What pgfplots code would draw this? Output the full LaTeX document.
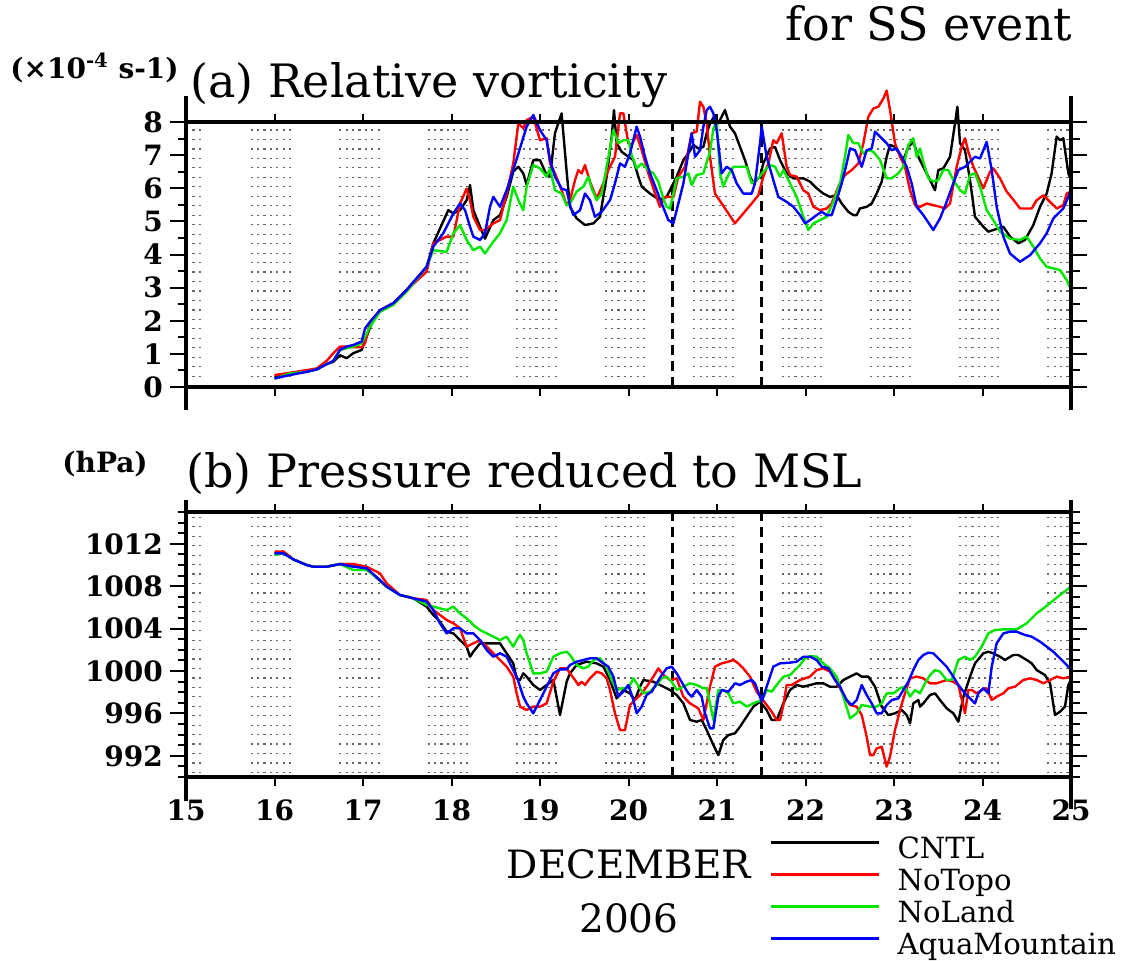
\documentclass[border=0pt]{standalone}
\usepackage{fontspec}
\setmainfont{DejaVu Serif}
\usepackage{pgfplots}
\pgfplotsset{compat=1.18}
\definecolor{cgreen}{RGB}{0,230,0}
\definecolor{cred}{RGB}{255,0,0}
\definecolor{cblue}{RGB}{0,0,255}
\newcommand\titlefont{\fontsize{23pt}{27pt}\selectfont}
\newcommand\tickfont{\fontsize{14pt}{16pt}\selectfont\bfseries}
\newcommand\legfont{\fontsize{14.6pt}{17pt}\selectfont}
\newcommand\datefont{\fontsize{19.5pt}{22pt}\selectfont}
\newcommand\nightrow[1]{(axis cs:15,#1) -- (axis cs:15.21,#1) (axis cs:15.73,#1) -- (axis cs:16.21,#1) (axis cs:16.73,#1) -- (axis cs:17.21,#1) (axis cs:17.73,#1) -- (axis cs:18.21,#1) (axis cs:18.73,#1) -- (axis cs:19.21,#1) (axis cs:19.73,#1) -- (axis cs:20.21,#1) (axis cs:20.73,#1) -- (axis cs:21.21,#1) (axis cs:21.73,#1) -- (axis cs:22.21,#1) (axis cs:22.73,#1) -- (axis cs:23.21,#1) (axis cs:23.73,#1) -- (axis cs:24.21,#1) (axis cs:24.73,#1) -- (axis cs:25,#1)}
\tikzset{
  nightdot/.style={draw=black!60, line width=0.6pt, dash pattern=on 1.1pt off 2.1pt},
  evline/.style={draw=black, line width=1.4pt, dash pattern=on 5pt off 3pt},
  frame/.style={line width=1.6pt},
}
\pgfplotsset{
  panel/.style={
    width=442.5pt, height=132.5pt, scale only axis,
    xmin=15, xmax=25, clip=false,
    axis line style={line width=1.6pt},
    tick align=outside,
    major tick length=8pt, minor tick length=4.25pt,
    tick style={black, line width=1pt},
    xtick={15,...,25},
    major x tick style={draw=none},
    minor xtick={16,...,24},
    yticklabel pos=left,
    ticklabel style={font=\tickfont},
    /pgf/number format/assume math mode=true,
    /pgf/number format/1000 sep={},
  },
  curve/.style={line width=1.2pt, line join=round, no markers},
}
\begin{document}
\begin{tikzpicture}
\path[use as bounding box] (0pt,0pt) rectangle (564.5pt,-480pt);

% ---------------- panel (a)
\begin{axis}[panel, at={(93pt,-193.5pt)}, anchor=south west,
  ymin=0, ymax=8, ytick={0,...,8}, minor ytick={0,0.5,...,8},
  xticklabels={}]
\pgfplotsinvokeforeach{0,...,27}{\draw[nightdot] \nightrow{{0.04+#1*0.2859}};}
\draw[evline] (axis cs:20.5,0) -- (axis cs:20.5,8);
\draw[evline] (axis cs:21.5,0) -- (axis cs:21.5,8);
\addplot[curve, black] coordinates {(16.0,0.31)(16.175,0.41)(16.363,0.46)(16.476,0.53)(16.589,0.69)(16.664,0.76)(16.740,0.96)(16.815,0.87)(16.890,1.02)(16.985,1.12)(17.023,1.40)(17.098,1.92)(17.192,2.32)(17.343,2.53)(17.493,2.93)(17.719,3.63)(17.795,4.34)(17.964,5.34)(18.021,5.24)(18.096,5.34)(18.171,5.64)(18.209,6.10)(18.247,5.34)(18.322,4.84)(18.378,4.48)(18.473,5.04)(18.548,5.19)(18.623,5.74)(18.698,6.50)(18.755,6.65)(18.811,6.45)(18.849,6.10)(18.924,6.85)(19.0,6.85)(19.075,6.40)(19.113,6.35)(19.169,7.66)(19.244,8.26)(19.301,6.50)(19.339,5.44)(19.414,5.09)(19.508,4.89)(19.603,4.94)(19.678,5.14)(19.753,6.35)(19.810,7.56)(19.836,8.36)(19.866,7.36)(19.923,7.10)(19.998,6.95)(20.055,6.85)(20.111,6.35)(20.149,6.05)(20.243,5.84)(20.356,5.64)(20.431,5.74)(20.488,6.05)(20.544,6.35)(20.620,6.85)(20.676,7.05)(20.733,7.31)(20.789,7.20)(20.846,7.25)(20.883,7.66)(20.921,7.96)(20.977,8.21)(21.015,7.96)(21.090,8.36)(21.147,7.86)(21.203,7.66)(21.260,7.25)(21.316,6.85)(21.373,6.35)(21.411,6.15)(21.486,6.35)(21.523,6.75)(21.599,7.20)(21.655,7.25)(21.712,6.85)(21.787,6.45)(21.863,6.30)(21.976,6.30)(22.051,6.20)(22.126,6.00)(22.201,5.84)(22.277,5.74)(22.352,5.79)(22.409,5.54)(22.484,5.29)(22.541,5.19)(22.578,5.19)(22.616,5.39)(22.691,5.44)(22.748,5.54)(22.804,5.84)(22.861,6.20)(22.917,6.95)(22.955,7.31)(23.011,7.25)(23.068,7.00)(23.105,6.85)(23.162,7.25)(23.218,7.40)(23.275,6.95)(23.331,6.65)(23.407,6.25)(23.463,5.94)(23.501,6.55)(23.557,6.60)(23.633,6.95)(23.689,7.96)(23.716,8.46)(23.746,7.36)(23.802,7.15)(23.859,6.25)(23.915,5.14)(24.009,4.84)(24.066,4.69)(24.122,4.74)(24.179,4.79)(24.235,4.84)(24.311,4.54)(24.405,4.34)(24.480,4.44)(24.574,4.89)(24.650,5.44)(24.725,5.84)(24.781,6.45)(24.838,7.56)(24.876,7.45)(24.913,7.51)(24.970,6.45)(25.0,6.25)};
\addplot[curve, cred] coordinates {(16.0,0.36)(16.175,0.43)(16.363,0.51)(16.476,0.56)(16.589,0.79)(16.664,1.02)(16.740,1.22)(16.815,1.22)(16.890,1.20)(16.985,1.20)(17.023,1.32)(17.079,1.92)(17.192,2.32)(17.343,2.53)(17.493,2.93)(17.719,3.48)(17.795,4.34)(17.945,4.54)(18.021,4.54)(18.096,5.54)(18.171,5.99)(18.209,5.64)(18.247,5.14)(18.322,4.74)(18.378,4.74)(18.473,4.94)(18.548,5.04)(18.623,5.84)(18.698,6.75)(18.755,7.96)(18.811,7.81)(18.849,8.06)(18.924,8.16)(19.0,7.45)(19.075,7.51)(19.113,6.75)(19.169,6.45)(19.244,5.94)(19.301,5.49)(19.339,5.64)(19.396,6.25)(19.433,6.55)(19.471,6.45)(19.508,6.70)(19.565,6.20)(19.640,5.69)(19.716,6.15)(19.772,6.55)(19.847,6.95)(19.904,8.26)(19.942,8.26)(19.998,7.36)(20.036,7.31)(20.092,7.61)(20.149,7.15)(20.224,6.45)(20.300,5.84)(20.356,5.44)(20.413,5.74)(20.469,5.74)(20.507,5.74)(20.563,6.35)(20.638,6.65)(20.714,7.66)(20.770,7.71)(20.808,8.61)(20.846,8.46)(20.883,7.96)(20.921,6.95)(20.977,5.84)(21.053,5.54)(21.128,5.24)(21.203,4.94)(21.297,5.24)(21.392,5.54)(21.467,5.79)(21.523,6.35)(21.580,6.75)(21.636,7.45)(21.674,7.36)(21.731,7.66)(21.787,6.65)(21.825,6.40)(21.900,6.35)(21.976,5.94)(22.032,5.84)(22.089,5.44)(22.164,5.34)(22.239,5.39)(22.296,5.54)(22.371,6.05)(22.446,6.40)(22.522,6.55)(22.597,6.75)(22.654,7.36)(22.710,8.16)(22.767,8.41)(22.823,8.46)(22.880,8.71)(22.917,8.95)(22.955,8.36)(23.011,7.36)(23.068,6.95)(23.124,6.65)(23.181,5.94)(23.237,5.49)(23.294,5.44)(23.369,5.54)(23.444,5.49)(23.520,5.44)(23.576,5.39)(23.633,5.54)(23.708,6.65)(23.765,7.25)(23.802,7.51)(23.840,7.10)(23.897,6.65)(24.009,6.00)(24.085,6.50)(24.122,6.60)(24.198,6.30)(24.273,5.90)(24.367,5.59)(24.424,5.39)(24.499,5.39)(24.556,5.39)(24.612,5.64)(24.688,5.79)(24.763,5.59)(24.838,5.39)(24.913,5.49)(24.951,5.84)(25.0,5.90)};
\addplot[curve, cgreen] coordinates {(16.0,0.25)(16.175,0.41)(16.363,0.46)(16.476,0.53)(16.589,0.69)(16.664,0.79)(16.740,1.12)(16.815,1.17)(16.890,1.22)(16.985,1.32)(17.023,1.52)(17.079,1.82)(17.192,2.27)(17.343,2.48)(17.493,2.88)(17.719,3.63)(17.795,4.13)(17.945,4.08)(18.021,4.64)(18.096,4.89)(18.171,4.44)(18.247,4.13)(18.322,4.24)(18.378,4.03)(18.473,4.39)(18.548,4.64)(18.623,5.04)(18.698,6.05)(18.755,5.64)(18.811,5.34)(18.849,6.05)(18.924,6.70)(19.0,6.60)(19.075,6.35)(19.113,6.60)(19.169,5.94)(19.244,5.84)(19.301,5.49)(19.339,5.54)(19.414,5.90)(19.490,6.05)(19.546,6.35)(19.584,6.00)(19.640,5.64)(19.697,5.84)(19.753,6.65)(19.829,7.76)(19.885,7.36)(19.942,7.45)(19.998,7.45)(20.036,7.00)(20.092,6.60)(20.149,6.75)(20.224,6.55)(20.281,6.45)(20.337,6.20)(20.394,5.69)(20.431,5.44)(20.469,5.39)(20.507,5.84)(20.544,6.30)(20.620,6.35)(20.676,6.45)(20.714,6.10)(20.770,6.40)(20.846,6.45)(20.921,7.10)(20.959,7.81)(20.996,8.01)(21.034,6.45)(21.071,6.05)(21.128,6.40)(21.185,6.65)(21.260,6.65)(21.335,6.65)(21.392,6.15)(21.467,6.30)(21.523,6.50)(21.599,6.70)(21.655,6.65)(21.712,6.35)(21.750,6.55)(21.825,6.15)(21.900,5.74)(21.976,5.14)(22.032,4.74)(22.089,4.94)(22.164,5.04)(22.239,5.14)(22.315,5.59)(22.390,6.15)(22.446,6.95)(22.484,7.61)(22.541,7.36)(22.597,7.36)(22.654,7.05)(22.710,7.15)(22.767,7.10)(22.842,6.85)(22.917,6.30)(22.974,6.30)(23.049,6.45)(23.105,6.65)(23.162,7.31)(23.218,7.51)(23.256,6.95)(23.294,7.20)(23.331,6.80)(23.388,6.30)(23.444,6.20)(23.501,6.25)(23.557,6.55)(23.614,6.55)(23.670,6.25)(23.746,5.94)(23.802,5.84)(23.859,6.40)(23.915,6.45)(23.972,6.05)(24.047,5.34)(24.122,5.04)(24.198,4.69)(24.311,4.48)(24.424,4.44)(24.499,4.54)(24.574,4.24)(24.650,3.88)(24.725,3.63)(24.800,3.58)(24.876,3.53)(24.951,3.23)(25.0,2.93)};
\addplot[curve, cblue] coordinates {(16.0,0.26)(16.175,0.36)(16.363,0.46)(16.476,0.53)(16.589,0.69)(16.664,0.79)(16.740,1.12)(16.815,1.22)(16.890,1.27)(16.985,1.37)(17.023,1.77)(17.079,1.97)(17.192,2.32)(17.343,2.53)(17.493,2.93)(17.719,3.63)(17.795,4.24)(17.907,4.64)(17.964,4.94)(18.021,5.24)(18.096,5.54)(18.153,5.34)(18.209,4.84)(18.247,4.54)(18.322,4.44)(18.378,4.64)(18.435,5.44)(18.473,5.74)(18.548,5.44)(18.623,5.94)(18.698,6.55)(18.849,7.86)(18.924,8.21)(19.0,7.76)(19.075,7.45)(19.113,6.85)(19.169,6.35)(19.244,5.99)(19.301,5.94)(19.339,5.49)(19.377,5.19)(19.452,5.34)(19.508,5.84)(19.565,5.64)(19.621,5.14)(19.697,5.29)(19.791,5.64)(19.847,6.15)(19.904,6.75)(19.960,6.65)(20.017,7.05)(20.092,7.86)(20.130,7.56)(20.186,6.95)(20.243,6.45)(20.318,5.94)(20.375,5.54)(20.450,5.04)(20.507,4.94)(20.563,5.54)(20.620,6.15)(20.676,7.05)(20.714,7.66)(20.752,6.95)(20.808,7.15)(20.846,7.86)(20.883,8.36)(20.921,8.46)(20.959,8.26)(20.996,7.76)(21.053,6.45)(21.109,6.65)(21.166,6.55)(21.222,6.15)(21.297,5.84)(21.392,5.84)(21.429,6.15)(21.486,7.36)(21.505,7.86)(21.561,6.95)(21.636,6.25)(21.693,5.74)(21.787,5.59)(21.863,5.44)(21.938,5.19)(21.995,4.94)(22.051,5.04)(22.126,5.19)(22.183,5.29)(22.239,5.19)(22.296,5.19)(22.352,5.64)(22.409,6.15)(22.465,6.75)(22.503,7.20)(22.559,7.15)(22.635,6.65)(22.691,7.15)(22.748,7.20)(22.786,7.71)(22.842,7.56)(22.917,7.36)(22.974,7.15)(23.030,7.20)(23.087,6.95)(23.143,6.65)(23.199,6.15)(23.256,5.44)(23.331,5.19)(23.407,4.89)(23.444,4.74)(23.520,5.09)(23.595,5.59)(23.670,6.15)(23.727,6.55)(23.802,6.65)(23.859,6.80)(23.915,6.95)(23.972,6.90)(24.047,7.40)(24.104,6.55)(24.160,5.44)(24.235,4.54)(24.311,4.03)(24.424,3.78)(24.537,3.98)(24.650,4.34)(24.725,4.64)(24.800,5.09)(24.913,5.39)(24.970,5.74)(25.0,5.99)};
\draw[frame] (rel axis cs:0,0) -- (rel axis cs:1,0);
\draw[frame] (rel axis cs:0,1) -- (rel axis cs:1,1);
\draw[frame] (rel axis cs:0,-0.087) -- (rel axis cs:0,1.10);
\draw[frame] (rel axis cs:1,-0.087) -- (rel axis cs:1,1.10);
\end{axis}

% ---------------- panel (b)
\begin{axis}[panel, at={(93pt,-388.5pt)}, anchor=south west,
  ymin=990, ymax=1015, ytick={992,996,...,1012}, minor ytick={990,...,1015},
  legend cell align=left,
  legend style={at={(rel axis cs:0.66,-0.226)}, anchor=north west, draw=none, fill=none,
    inner sep=0pt, outer sep=0pt, row sep=0pt, column sep=0pt,
    nodes={inner sep=0pt, text height=10.7pt, text depth=5.3pt, font=\legfont}},
  legend image code/.code={\draw[#1, line width=1.2pt] (0pt,5.3pt) -- (54pt,5.3pt); \path (0pt,0pt) (62.5pt,0pt);}]
\pgfplotsinvokeforeach{0,...,27}{\draw[nightdot] \nightrow{{990.44+#1*0.891}};}
\draw[evline] (axis cs:20.5,990) -- (axis cs:20.5,1015);
\draw[evline] (axis cs:21.5,990) -- (axis cs:21.5,1015);
\addplot[curve, black] coordinates {(16.0,1011.10)(16.10,1011.26)(16.213,1010.53)(16.363,1010.0)(16.439,1009.84)(16.589,1009.84)(16.740,1010.09)(16.890,1010.09)(17.041,1009.69)(17.192,1008.50)(17.267,1007.96)(17.418,1007.17)(17.569,1006.86)(17.719,1006.07)(17.795,1005.28)(17.870,1004.65)(17.945,1003.71)(18.021,1003.55)(18.096,1002.92)(18.171,1002.30)(18.209,1001.35)(18.247,1001.82)(18.322,1002.61)(18.398,1002.61)(18.473,1002.61)(18.548,1002.61)(18.623,1001.67)(18.698,1000.72)(18.736,999.31)(18.774,999.15)(18.811,999.78)(18.849,999.47)(18.924,998.68)(19.0,998.21)(19.075,998.68)(19.151,999.15)(19.226,995.85)(19.301,998.99)(19.339,999.78)(19.414,1000.57)(19.527,1000.88)(19.640,1000.72)(19.716,1000.41)(19.791,999.15)(19.866,997.42)(19.942,998.21)(20.017,997.89)(20.073,997.26)(20.130,998.52)(20.168,999.15)(20.281,998.99)(20.394,998.52)(20.469,998.21)(20.544,997.74)(20.620,996.95)(20.695,995.38)(20.770,995.22)(20.827,995.38)(20.883,994.43)(20.959,993.02)(21.015,992.07)(21.071,993.49)(21.128,993.96)(21.203,994.12)(21.260,994.75)(21.335,995.69)(21.411,996.64)(21.486,997.11)(21.561,996.32)(21.618,995.38)(21.674,995.38)(21.750,996.95)(21.825,998.21)(21.900,998.68)(21.976,998.52)(22.051,998.68)(22.126,998.84)(22.201,998.84)(22.277,998.52)(22.352,998.52)(22.428,999.15)(22.503,999.47)(22.578,999.78)(22.635,999.47)(22.710,999.47)(22.786,998.52)(22.861,996.64)(22.936,995.85)(23.011,996.01)(23.087,996.32)(23.143,995.85)(23.181,995.06)(23.218,996.95)(23.275,997.26)(23.294,996.64)(23.331,996.95)(23.407,997.74)(23.463,997.89)(23.520,997.26)(23.595,996.48)(23.670,996.01)(23.727,995.22)(23.784,997.58)(23.859,999.47)(23.915,1000.72)(24.009,1001.67)(24.066,1001.82)(24.122,1001.67)(24.198,1001.35)(24.254,1001.04)(24.348,1001.51)(24.405,1001.51)(24.499,1001.04)(24.556,1000.72)(24.612,1000.09)(24.706,999.62)(24.763,998.84)(24.819,995.85)(24.876,996.16)(24.932,996.64)(24.970,998.68)(25.0,999.15)};
\addlegendentry{CNTL}
\addplot[curve, cred] coordinates {(16.0,1011.26)(16.10,1011.26)(16.213,1010.53)(16.363,1010.0)(16.439,1009.84)(16.589,1009.84)(16.740,1010.09)(16.890,1010.09)(17.041,1009.84)(17.192,1009.21)(17.267,1008.27)(17.418,1007.17)(17.569,1006.86)(17.719,1006.70)(17.795,1005.75)(17.870,1005.28)(17.945,1004.81)(18.021,1004.50)(18.096,1004.03)(18.171,1002.30)(18.247,1002.61)(18.322,1002.92)(18.398,1002.30)(18.473,1001.67)(18.548,1001.04)(18.623,1000.41)(18.698,999.47)(18.736,997.89)(18.774,996.64)(18.811,996.48)(18.849,996.32)(18.924,996.64)(19.0,996.64)(19.075,996.95)(19.151,999.0)(19.226,1000.25)(19.301,1000.25)(19.339,999.78)(19.396,999.15)(19.433,998.68)(19.471,998.99)(19.508,998.68)(19.565,999.31)(19.640,999.94)(19.697,999.78)(19.753,999.31)(19.791,998.21)(19.847,996.01)(19.904,994.43)(19.960,994.43)(19.998,996.01)(20.017,996.79)(20.073,997.26)(20.149,997.89)(20.205,998.52)(20.281,999.47)(20.337,1000.25)(20.394,999.62)(20.469,999.15)(20.544,999.31)(20.620,997.58)(20.695,996.95)(20.789,996.48)(20.846,995.38)(20.883,996.95)(20.921,998.52)(20.977,1000.41)(21.053,1000.72)(21.128,1000.88)(21.185,1001.04)(21.241,1000.72)(21.297,1000.25)(21.373,999.47)(21.448,998.05)(21.505,997.42)(21.561,996.79)(21.618,996.16)(21.674,995.38)(21.712,995.38)(21.750,996.79)(21.787,998.68)(21.844,998.68)(21.938,999.15)(22.051,999.47)(22.126,1000.09)(22.201,1000.25)(22.277,999.94)(22.352,998.99)(22.428,997.74)(22.503,996.79)(22.578,996.64)(22.635,995.85)(22.691,993.81)(22.729,992.07)(22.767,992.07)(22.804,992.70)(22.861,992.86)(22.917,990.98)(22.955,991.92)(23.011,994.43)(23.068,996.32)(23.124,997.89)(23.181,999.31)(23.256,999.47)(23.331,999.31)(23.407,998.84)(23.482,998.84)(23.595,999.15)(23.670,998.99)(23.727,998.68)(23.802,996.01)(23.840,998.21)(23.878,998.21)(23.934,997.89)(23.991,998.21)(24.047,998.37)(24.104,997.26)(24.160,997.58)(24.235,997.89)(24.292,998.37)(24.367,998.52)(24.461,999.15)(24.537,999.31)(24.612,999.15)(24.688,998.84)(24.763,999.15)(24.838,999.47)(24.913,999.31)(25.0,999.47)};
\addlegendentry{NoTopo}
\addplot[curve, cgreen] coordinates {(16.0,1010.94)(16.10,1011.10)(16.213,1010.53)(16.363,1010.0)(16.439,1009.84)(16.589,1009.84)(16.740,1010.09)(16.890,1009.53)(17.041,1009.53)(17.192,1008.58)(17.267,1007.96)(17.418,1007.17)(17.569,1006.86)(17.719,1006.23)(17.795,1006.07)(17.870,1005.91)(17.945,1005.75)(18.021,1006.07)(18.096,1005.44)(18.171,1004.97)(18.247,1004.34)(18.322,1003.87)(18.398,1003.55)(18.473,1003.24)(18.548,1002.92)(18.623,1003.24)(18.698,1002.30)(18.736,1002.92)(18.774,1003.40)(18.811,1002.92)(18.849,1001.67)(18.924,999.78)(19.0,999.78)(19.075,999.94)(19.151,1001.35)(19.226,1001.67)(19.301,1001.82)(19.339,1001.51)(19.414,1000.57)(19.490,1000.25)(19.546,1000.41)(19.603,1001.04)(19.678,1001.20)(19.753,1000.41)(19.810,999.15)(19.866,998.21)(19.923,998.37)(19.998,998.37)(20.055,999.31)(20.092,998.84)(20.168,997.89)(20.243,998.05)(20.318,998.68)(20.375,999.31)(20.431,999.47)(20.488,998.99)(20.544,998.21)(20.620,998.52)(20.695,998.84)(20.770,998.68)(20.846,998.37)(20.883,998.37)(20.921,996.95)(20.959,995.38)(21.015,998.21)(21.071,998.21)(21.128,997.89)(21.185,996.95)(21.260,997.11)(21.335,996.64)(21.411,996.95)(21.505,997.26)(21.561,998.21)(21.618,998.05)(21.674,998.68)(21.750,999.47)(21.825,999.62)(21.938,1000.57)(21.995,1001.20)(22.051,1001.42)(22.126,1001.35)(22.201,1000.72)(22.277,1000.25)(22.352,999.47)(22.428,997.58)(22.503,995.53)(22.578,996.01)(22.635,996.79)(22.729,996.64)(22.804,996.64)(22.861,996.95)(22.917,997.89)(22.993,997.89)(23.068,998.37)(23.124,998.52)(23.181,997.58)(23.237,998.21)(23.294,997.89)(23.350,998.84)(23.407,999.62)(23.463,1000.09)(23.520,999.94)(23.595,999.15)(23.652,999.15)(23.727,1001.04)(23.802,1001.35)(23.859,1001.04)(23.915,1001.35)(23.991,1002.30)(24.066,1003.55)(24.141,1003.87)(24.235,1003.93)(24.386,1003.93)(24.499,1004.50)(24.612,1005.44)(24.688,1005.91)(24.782,1006.54)(24.876,1007.17)(25.0,1007.96)};
\addlegendentry{NoLand}
\addplot[curve, cblue] coordinates {(16.0,1011.10)(16.10,1011.10)(16.213,1010.53)(16.363,1010.0)(16.439,1009.84)(16.589,1009.84)(16.740,1010.09)(16.890,1009.84)(17.041,1009.69)(17.192,1008.58)(17.267,1007.96)(17.418,1007.17)(17.569,1006.86)(17.719,1006.54)(17.795,1005.75)(17.870,1004.50)(17.945,1003.55)(18.021,1004.03)(18.096,1004.03)(18.171,1003.55)(18.247,1003.55)(18.322,1002.92)(18.398,1001.98)(18.473,1001.35)(18.548,1001.67)(18.623,1001.35)(18.698,1000.09)(18.736,999.47)(18.774,998.52)(18.811,997.58)(18.849,996.95)(18.924,996.01)(19.0,997.26)(19.075,998.52)(19.151,999.78)(19.226,1000.16)(19.301,1000.16)(19.339,1000.57)(19.414,1000.88)(19.490,1001.04)(19.565,1001.20)(19.640,1001.20)(19.716,1000.72)(19.772,1000.41)(19.829,999.47)(19.885,997.58)(19.942,998.05)(19.998,998.68)(20.055,997.26)(20.092,996.01)(20.149,996.64)(20.205,997.74)(20.262,998.05)(20.318,998.84)(20.375,999.62)(20.431,1000.25)(20.488,1000.41)(20.544,999.78)(20.620,998.68)(20.676,997.89)(20.714,997.58)(20.770,998.21)(20.827,997.58)(20.864,996.01)(20.921,994.59)(20.959,994.59)(21.015,997.58)(21.053,998.21)(21.128,998.05)(21.203,998.84)(21.260,998.68)(21.335,999.0)(21.392,999.15)(21.429,998.84)(21.486,997.58)(21.505,997.11)(21.561,998.52)(21.636,1000.41)(21.712,1000.72)(21.825,1000.79)(21.900,1000.88)(21.976,1001.35)(22.051,1001.35)(22.126,1001.04)(22.183,1000.41)(22.258,1000.25)(22.333,999.15)(22.390,998.52)(22.465,997.26)(22.522,996.79)(22.578,997.26)(22.635,998.68)(22.691,997.74)(22.748,996.95)(22.804,996.01)(22.861,996.01)(22.917,996.79)(22.974,997.26)(23.049,997.42)(23.105,998.21)(23.162,998.99)(23.218,1000.09)(23.275,1001.04)(23.331,1001.51)(23.388,1001.73)(23.444,1001.67)(23.520,1001.04)(23.595,1000.41)(23.670,999.47)(23.727,998.68)(23.802,997.89)(23.859,997.42)(23.915,996.95)(23.953,997.89)(24.009,998.37)(24.066,997.89)(24.104,1000.41)(24.160,1002.61)(24.235,1003.55)(24.311,1003.71)(24.386,1003.71)(24.480,1003.40)(24.556,1003.24)(24.650,1002.77)(24.725,1002.30)(24.800,1001.82)(24.876,1001.20)(24.951,1000.57)(25.0,1000.09)};
\addlegendentry{AquaMountain}
\draw[frame] (rel axis cs:0,0) -- (rel axis cs:1,0);
\draw[frame] (rel axis cs:0,1) -- (rel axis cs:1,1);
\draw[frame] (rel axis cs:0,-0.09) -- (rel axis cs:0,1.045);
\draw[frame] (rel axis cs:1,-0.12) -- (rel axis cs:1,1.045);
\end{axis}

% ---------------- texts
\node[anchor=base west, inner sep=0pt, font=\titlefont] at (392.5pt,-20pt) {for SS event};
\node[anchor=base west, inner sep=0pt, font=\titlefont] at (95pt,-48.5pt) {(a) Relative vorticity};
\node[anchor=base west, inner sep=0pt, font=\tickfont] at (5pt,-39pt) {(×10\textsuperscript{-4} s-1)};
\node[anchor=base west, inner sep=0pt, font=\titlefont] at (93pt,-243.5pt) {(b) Pressure reduced to MSL};
\node[anchor=base west, inner sep=0pt, font=\tickfont] at (31pt,-236pt) {(hPa)};
\node[anchor=base, inner sep=0pt, font=\datefont] at (314.5pt,-439pt) {DECEMBER};
\node[anchor=base, inner sep=0pt, font=\datefont] at (314.5pt,-466pt) {2006};
\end{tikzpicture}
\end{document}
